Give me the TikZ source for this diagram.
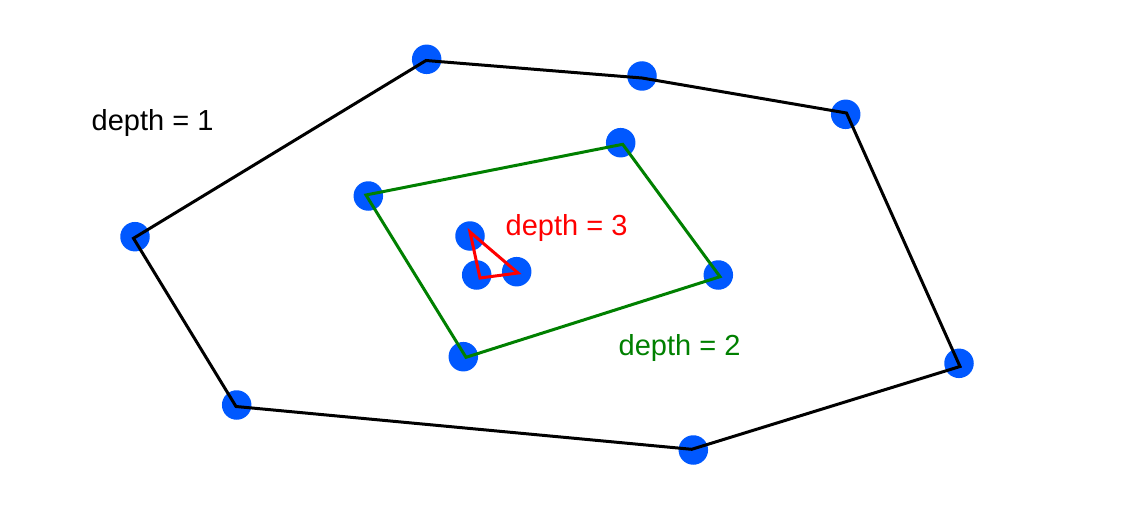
\documentclass[tikz,border=0pt]{standalone}
\usepackage{fontspec}
\setmainfont{Liberation Sans}
\definecolor{dotblue}{RGB}{0,88,255}
\definecolor{hullgreen}{RGB}{0,128,0}
\definecolor{hullred}{RGB}{255,0,0}
\tikzset{
  pt/.style={circle,fill=dotblue,draw=none,minimum size=29.5pt,inner sep=0pt},
  hull/.style={line width=3pt,line join=miter},
  lbl/.style={inner sep=0pt,anchor=base west,font=\fontsize{29}{35}\selectfont}
}
\begin{document}
\begin{tikzpicture}[x=1pt,y=-1pt]
\useasboundingbox (0,0) rectangle (1128,527);
% dots
\node[pt] (dA) at (426.7,59.3) {};
\node[pt] (dB) at (642,76) {};
\node[pt] (dC) at (845.7,114.3) {};
\node[pt] (dD) at (959,363.3) {};
\node[pt] (dE) at (693.3,450) {};
\node[pt] (dF) at (236.7,405) {};
\node[pt] (dG) at (135,236.7) {};
\node[pt] (g1) at (368.3,196) {};
\node[pt] (g2) at (620.7,142.7) {};
\node[pt] (g3) at (718.3,275) {};
\node[pt] (g4) at (463.3,356.7) {};
\node[pt] (r1) at (470,236) {};
\node[pt] (r2) at (476.7,275) {};
\node[pt] (r3) at (516.7,271.7) {};
% hull vertices
\coordinate (vA) at (426,60.5);
\coordinate (vB) at (642,78);
\coordinate (vC) at (846.5,113);
\coordinate (vD) at (960,366.5);
\coordinate (vE) at (691.7,449.3);
\coordinate (vF) at (236,406.5);
\coordinate (vG) at (133.5,238.3);
\coordinate (w1) at (366,195);
\coordinate (w2) at (622.7,144.3);
\coordinate (w3) at (720,276.7);
\coordinate (w4) at (466,357.3);
\coordinate (u1) at (470,232);
\coordinate (u2) at (480,278);
\coordinate (u3) at (518,273);
% hulls
\draw[hull,black] (vA) -- (vB) -- (vC) -- (vD) -- (vE) -- (vF) -- (vG) -- cycle;
\draw[hull,hullgreen] (w1) -- (w2) -- (w3) -- (w4) -- cycle;
\draw[hull,hullred] (u1) -- (u3) -- (u2) -- cycle;
% labels
\node[lbl,text=black] (l1) at (91.5,130) {depth = 1};
\node[lbl,text=hullgreen] (l2) at (618.5,355) {depth = 2};
\node[lbl,text=hullred] (l3) at (505.5,235) {depth = 3};
\end{tikzpicture}
\end{document}
